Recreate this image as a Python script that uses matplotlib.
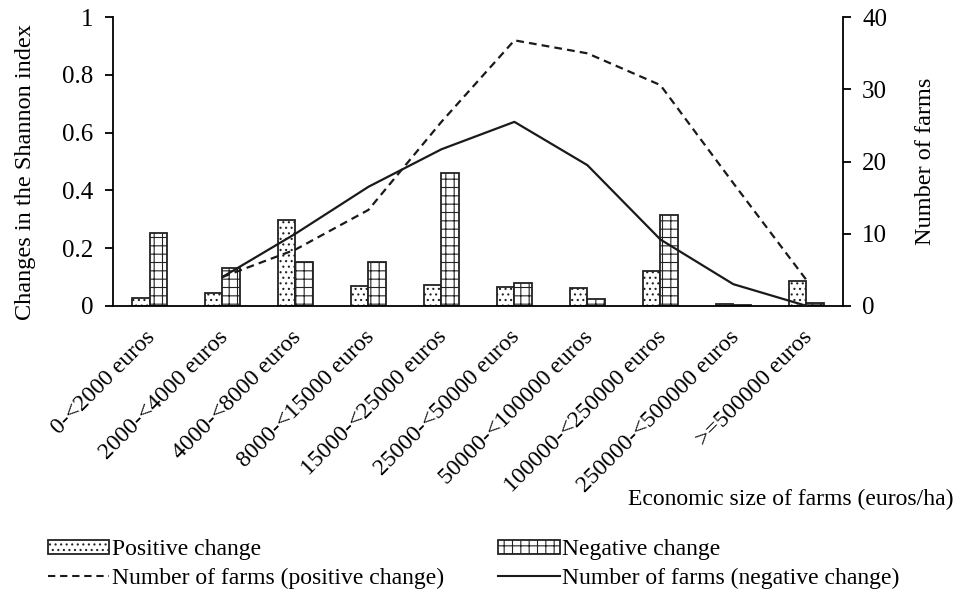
import numpy as np
import matplotlib.pyplot as plt
import matplotlib.transforms as mtransforms
from matplotlib.lines import Line2D
from matplotlib.patches import Patch

plt.rcParams['font.family'] = ['Liberation Serif', 'DejaVu Serif']
plt.rcParams['hatch.linewidth'] = 0.8

# 数据
categories = ['0-<2000 euros', '2000-<4000 euros', '4000-<8000 euros', '8000-<15000 euros',
              '15000-<25000 euros', '25000-<50000 euros', '50000-<100000 euros',
              '100000-<250000 euros', '250000-<500000 euros', '>=500000 euros']
positive_change = [0.027, 0.046, 0.298, 0.07, 0.073, 0.066, 0.061, 0.122, 0.007, 0.087]
negative_change = [0.253, 0.132, 0.152, 0.152, 0.46, 0.078, 0.022, 0.315, 0.003, 0.01]
farms_positive = [np.nan, 4.0, 7.8, 13.3, 25.5, 36.8, 35.0, 30.6, 17.0, 3.6]
farms_negative = [np.nan, 4.0, 10.0, 16.5, 21.7, 25.5, 19.5, 9.2, 3.0, 0.0]

x = np.arange(len(categories))
w = 0.24
dash = (0, (3.5, 2.3))

fig = plt.figure(figsize=(9.61, 5.95), dpi=100)
ax = fig.add_axes([0.1176, 0.486, 0.7594, 0.485])
ax2 = ax.twinx()

ax.bar(x - w / 2, positive_change, w, color='white', edgecolor='#222222', lw=1.3, hatch='...')
ax.bar(x + w / 2, negative_change, w, color='white', edgecolor='#222222', lw=1.3, hatch='++')

ax2.plot(x, farms_positive, color='#1a1a1a', lw=1.6, ls=dash)
ax2.plot(x, farms_negative, color='#1a1a1a', lw=1.6)

ax.set_xlim(-0.5, 9.5)
ax.set_ylim(0, 1)
ax.set_yticks([0, 0.2, 0.4, 0.6, 0.8, 1])
ax.set_yticklabels(['0', '0.2', '0.4', '0.6', '0.8', '1'])
ax2.set_ylim(0, 40)
ax2.set_yticks([0, 10, 20, 30, 40])

ax.set_xticks(x)
ax.set_xticklabels(categories, rotation=45, ha='right', rotation_mode='anchor', fontsize=17)
ax.tick_params(axis='x', length=0, pad=15)
# 标签稍微左移
shift = mtransforms.ScaledTranslation(-5 / 100, 0, fig.dpi_scale_trans)
for lab in ax.get_xticklabels():
    lab.set_transform(lab.get_transform() + shift)
ax.tick_params(axis='y', labelsize=18, length=6, width=1.3, pad=8)
ax2.tick_params(axis='y', labelsize=18, length=6, width=1.3, pad=8)

for a in (ax, ax2):
    a.spines['top'].set_visible(False)
    for s in ('left', 'right', 'bottom'):
        a.spines[s].set_linewidth(1.3)
ax.spines['right'].set_visible(False)
ax2.spines['left'].set_visible(False)
ax2.spines['bottom'].set_visible(False)

ax.set_ylabel('Changes in the Shannon index', fontsize=17.5)
ax.yaxis.set_label_coords(-0.106, 0.462)
ax2.set_ylabel('Number of farms', fontsize=17.5, labelpad=20)

fig.text(0.992, 0.16, 'Economic size of farms (euros/ha)', ha='right', va='center', fontsize=17)

handles = [Patch(facecolor='white', edgecolor='#222222', hatch='...', lw=1.3),
           Line2D([0], [0], color='#1a1a1a', lw=1.5, ls=dash),
           Patch(facecolor='white', edgecolor='#222222', hatch='++', lw=1.3),
           Line2D([0], [0], color='#1a1a1a', lw=1.5)]
labels = ['Positive change', 'Number of farms (positive change)',
          'Negative change', 'Number of farms (negative change)']
fig.legend(handles, labels, ncol=2, loc='center left', bbox_to_anchor=(0.05, 0.052),
           frameon=False, fontsize=17, handlelength=2.6, handleheight=0.5, handletextpad=0.1,
           columnspacing=2.3, labelspacing=0.3, borderpad=0, borderaxespad=0)

fig.savefig('out.png', dpi=100)
